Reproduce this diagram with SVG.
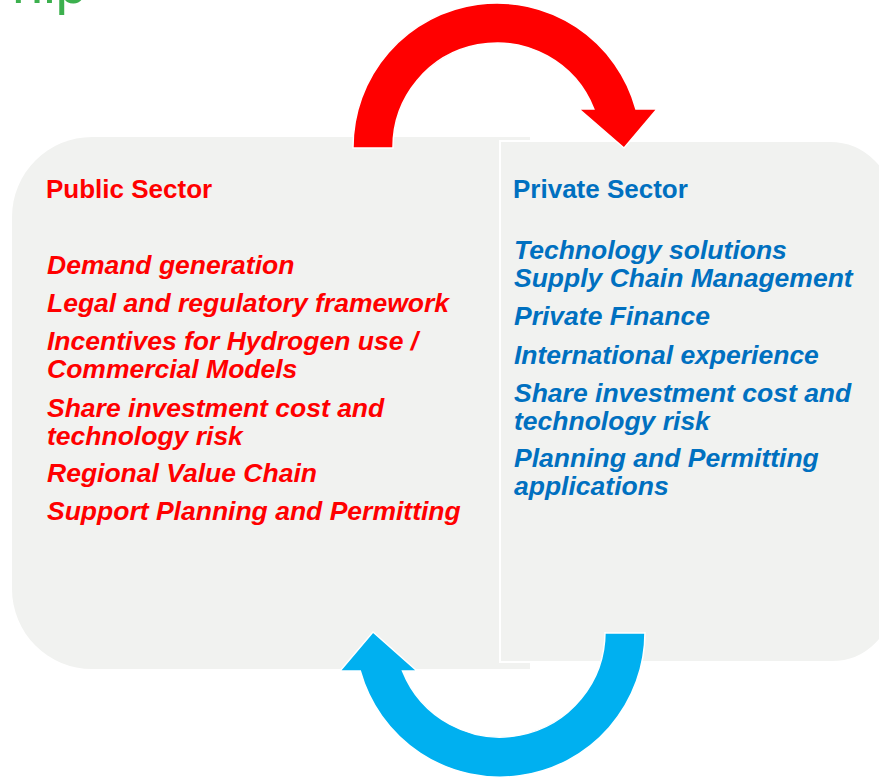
<svg xmlns="http://www.w3.org/2000/svg" width="879" height="778" viewBox="0 0 879 778">
<style>
  .panel { fill: #F1F2F0; }
  .title { font-family: "Liberation Sans", Arial, sans-serif; font-weight: bold; font-size: 26px; }
  .item { font-family: "Liberation Sans", Arial, sans-serif; font-weight: bold; font-style: italic; font-size: 26.5px; }
  .pub { fill: #FF0000; }
  .pri { fill: #0070C0; }
  .arrow { stroke: #FFFFFF; stroke-width: 1.5; stroke-linejoin: miter; }
</style>
<rect x="0" y="0" width="879" height="778" fill="#FFFFFF"/>
<text x="12" y="3" font-family="Liberation Sans, Arial, sans-serif" font-size="56" fill="#3CB04E">hip</text>

<g id="public-sector">
  <path class="panel" d="M 12 217 A 80 80 0 0 1 92 137 L 530 137 L 530 669 L 92 669 A 80 80 0 0 1 12 589 Z"/>
  <text class="title pub" x="46" y="198">Public Sector</text>
  <text class="item pub" x="47" y="273.5">Demand generation</text>
  <text class="item pub" x="47" y="311.5">Legal and regulatory framework</text>
  <text class="item pub" x="47" y="349.5">Incentives for Hydrogen use /</text>
  <text class="item pub" x="47" y="377.5">Commercial Models</text>
  <text class="item pub" x="47" y="416.5">Share investment cost and</text>
  <text class="item pub" x="47" y="444.5">technology risk</text>
  <text class="item pub" x="47" y="482">Regional Value Chain</text>
  <text class="item pub" x="47" y="519.5">Support Planning and Permitting</text>
</g>

<g id="private-sector">
  <path class="panel" stroke="#FFFFFF" stroke-width="2" d="M 500 141 L 830 141 A 64 64 0 0 1 894 205 L 894 600 A 62 62 0 0 1 832 662 L 500 662 Z"/>
  <text class="title pri" x="513" y="198">Private Sector</text>
  <text class="item pri" x="514" y="258.5">Technology solutions</text>
  <text class="item pri" x="514" y="286.5">Supply Chain Management</text>
  <text class="item pri" x="514" y="324.5">Private Finance</text>
  <text class="item pri" x="514" y="363.5">International experience</text>
  <text class="item pri" x="514" y="401.5">Share investment cost and</text>
  <text class="item pri" x="514" y="429.5">technology risk</text>
  <text class="item pri" x="514" y="467">Planning and Permitting</text>
  <text class="item pri" x="514" y="494.5">applications</text>
</g>

<g id="connectors">
  <path id="arrow-public-to-private" class="arrow" fill="#FF0000" d="M 353 148 L 353 147 A 144 144 0 0 1 635.9 109 L 657 109 L 624 148 L 579 109 L 593.8 109 A 104 104 0 0 0 393 147 L 393 148 Z"/>
  <path id="arrow-private-to-public" class="arrow" fill="#00B0F0" d="M 645 633 L 645 632 A 145 145 0 0 1 360.3 671 L 340 671 L 373 632 L 417 671 L 402.5 671 A 105 105 0 0 0 605 632 L 605 633 Z"/>
</g>
</svg>
